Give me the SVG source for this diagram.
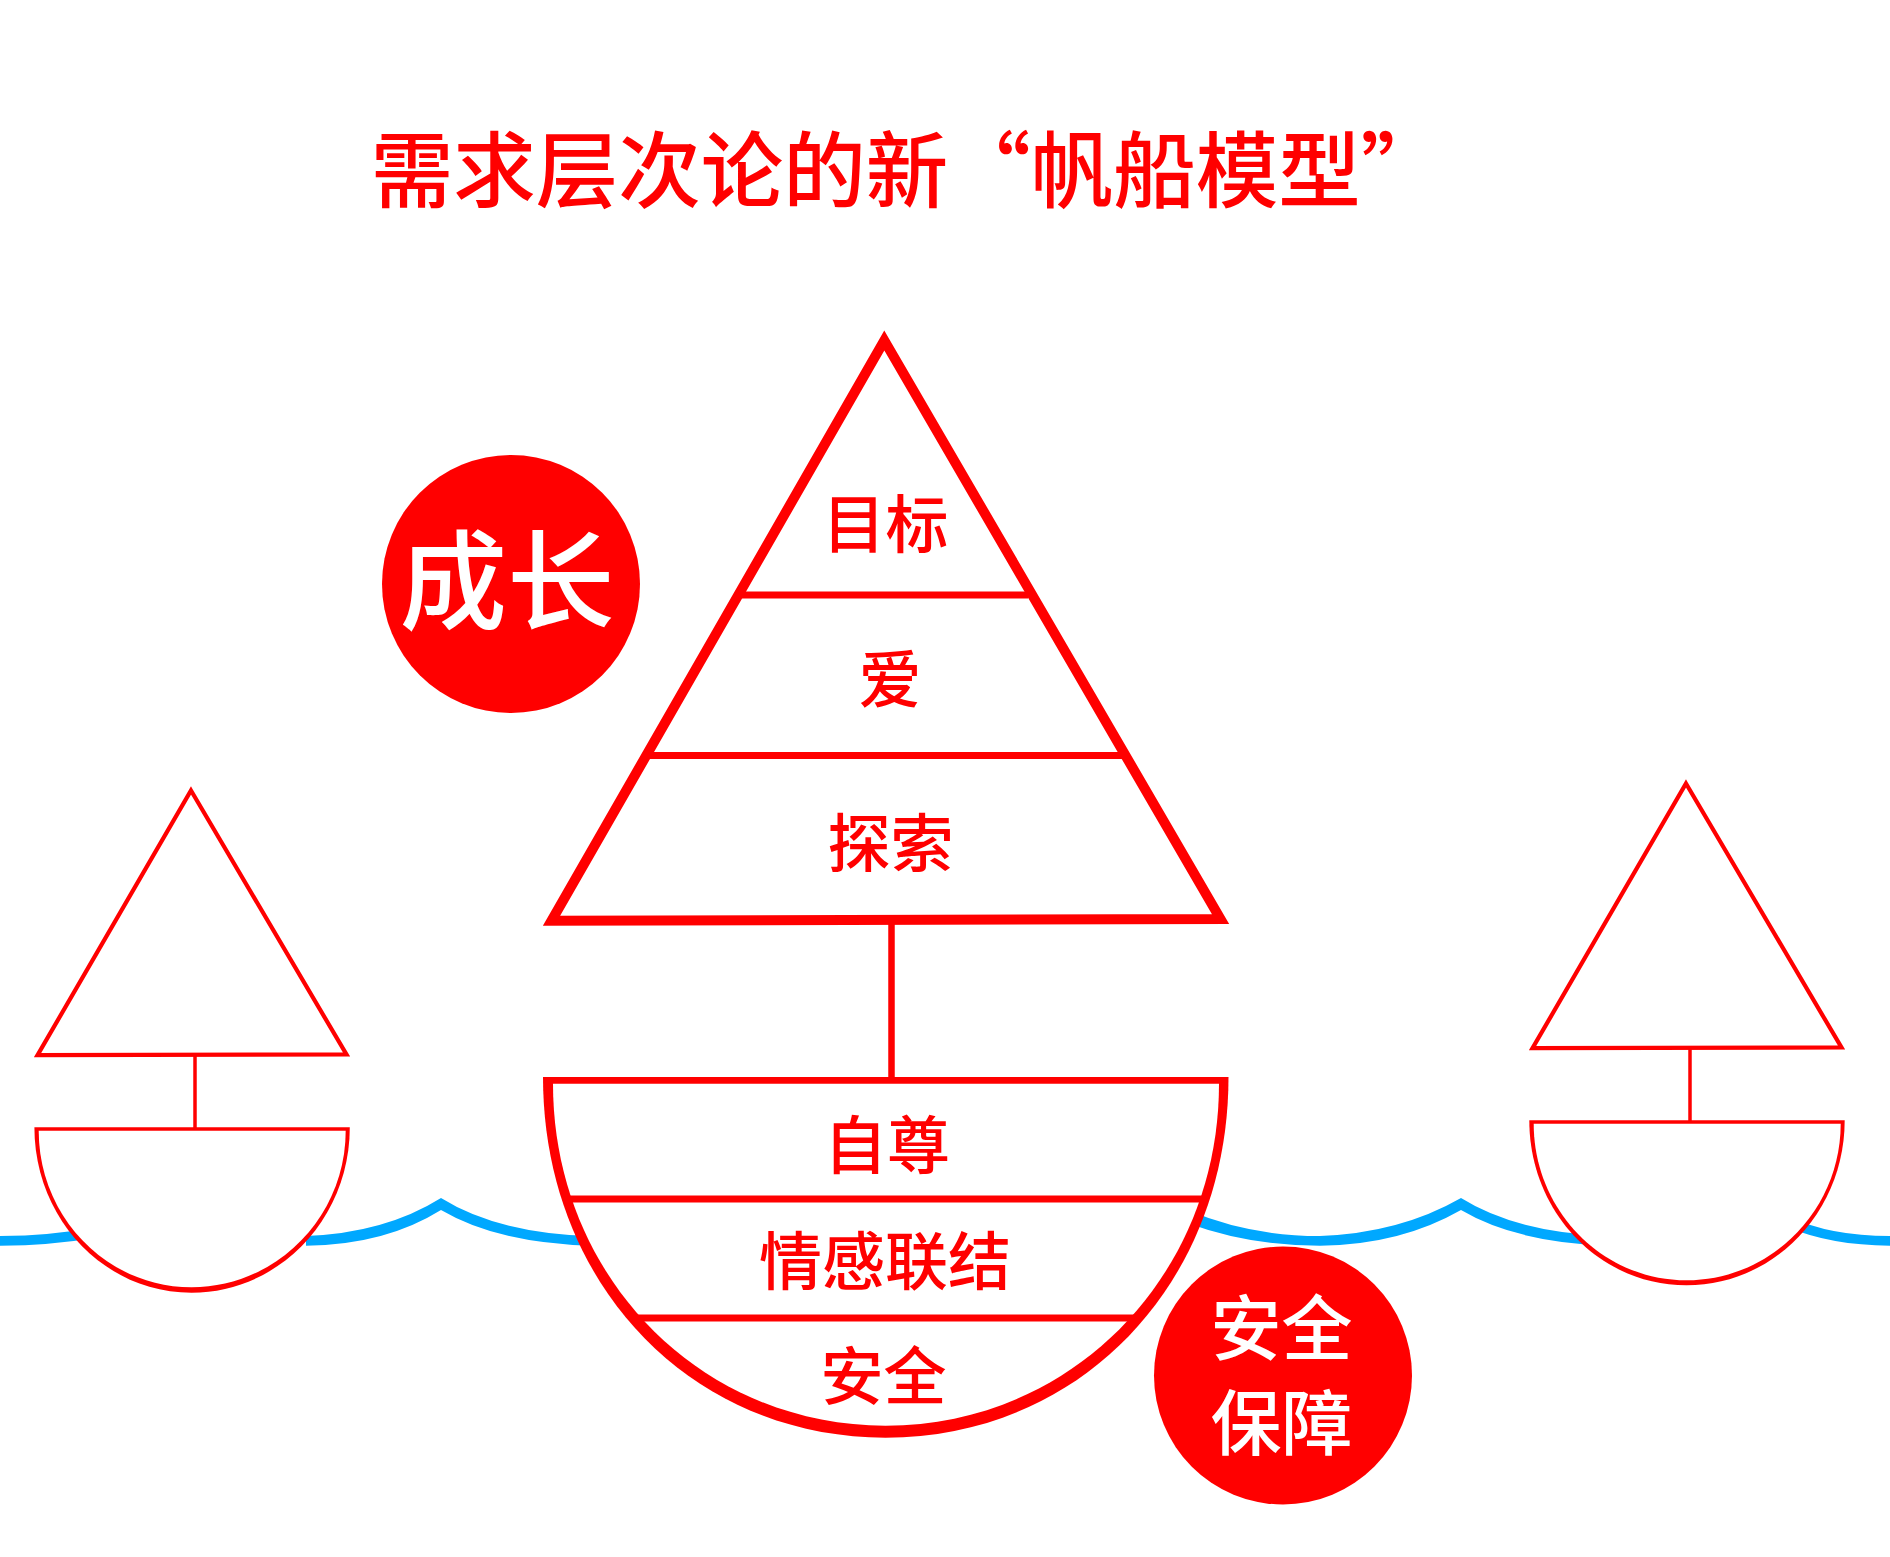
<svg xmlns="http://www.w3.org/2000/svg" width="1890" height="1557" viewBox="0 0 1890 1557">
<style>
text{font-family:"Noto Sans CJK SC","Noto Sans",sans-serif;text-anchor:middle;fill:#f00;font-weight:500}
.sail{fill:none;stroke:#f00;stroke-miterlimit:10}
.outer{fill:#f00}
.inner{fill:#fff}
.line{fill:none;stroke:#f00}
.wave{fill:#00a8ff}
.t{font-size:63px}
.w{fill:#fff}
</style>
<rect width="1890" height="1557" fill="#fff"/>
<g id="waves">
<path class="wave" d="M0,1236Q100,1236 200,1198V1211Q100,1245.700 0,1245.700Z"/>
<path class="wave" d="M306,1236Q385,1233 441,1198Q497,1233 590,1236V1245.700Q497,1243 441,1210Q385,1245 306,1245.700Z"/>
<path class="wave" d="M1190,1211Q1250,1236 1320,1236Q1400,1233 1461,1198Q1517,1233 1610,1236V1245.700Q1517,1243 1461,1210Q1400,1245 1320,1245.700Q1250,1245.700 1190,1224Z"/>
<path class="wave" d="M1790,1217Q1830,1236 1890,1236V1245.700Q1830,1245 1790,1228Z"/>
</g>
<g id="title"><text x="907" y="200.500" style="font-size:82.500px">需求层次论的新“帆船模型”</text></g>
<g id="connectors">
<path class="line" stroke-width="6.500" d="M891.500,920V1080"/>
<path class="line" stroke-width="3.500" d="M195,1054V1129"/>
<path class="line" stroke-width="3.500" d="M1690,1047V1122"/>
</g>
<g id="left-boat">
<path class="sail" stroke-width="4.200" d="M191,790.500L346.500,1054.500L37.500,1055.200Z"/>
<path class="outer" d="M34.400,1127.300H349.800C349.800,1218.600 279,1292.700 191.500,1292.700C104,1292.700 34.400,1218.600 34.400,1127.300Z"/>
<path class="inner" d="M38.700,1130.700H345.700C345.700,1217 276,1287.300 191.500,1287.300C107,1287.300 38.700,1217 38.700,1130.700Z"/>
</g>
<g id="right-boat">
<path class="sail" stroke-width="4.200" d="M1686,783.500L1841.500,1047.500L1532.500,1048.200Z"/>
<path class="outer" d="M1529.300,1120.300H1844.700C1844.700,1211.600 1774,1285.300 1686.500,1285.300C1599,1285.300 1529.300,1211.600 1529.300,1120.300Z"/>
<path class="inner" d="M1533.700,1123.700H1840.700C1840.700,1210 1771,1280.300 1686.500,1280.300C1602,1280.300 1533.700,1210 1533.700,1123.700Z"/>
</g>
<g id="sail-main">
<path class="sail" stroke-width="10" d="M884.300,340.500L1220.500,919L551.500,920.700Z"/>
<path class="line" stroke-width="7" d="M742,595H1028"/>
<path class="line" stroke-width="7" d="M650,755.500H1122"/>
<text class="t" x="885.500" y="547">目标</text>
<text class="t" x="890" y="702">爱</text>
<text class="t" x="890.500" y="866">探索</text>
</g>
<g id="hull">
<path class="outer" d="M543,1077H1228.500C1228.500,1282.600 1081,1437.700 885.500,1437.700C690,1437.700 543,1282.600 543,1077Z"/>
<path class="inner" d="M553,1083.700H1219C1219,1275 1072,1425.700 885.500,1425.700C699,1425.700 553,1275 553,1083.700Z"/>
<path class="line" stroke-width="7" d="M567,1199H1205"/>
<path class="line" stroke-width="7" d="M635,1318H1137"/>
<text class="t" x="887" y="1168">自尊</text>
<text class="t" x="885" y="1284">情感联结</text>
<text class="t" x="883.500" y="1399">安全</text>
</g>
<g id="growth">
<circle cx="511" cy="584" r="129" fill="#f00"/>
<text class="w" x="507" y="621" style="font-size:107.500px">成长</text>
</g>
<g id="safety">
<circle cx="1283" cy="1375.500" r="129" fill="#f00"/>
<text class="w" x="1281.500" y="1354" style="font-size:71px">安全</text>
<text class="w" x="1281.500" y="1448.500" style="font-size:71px">保障</text>
</g>
</svg>
